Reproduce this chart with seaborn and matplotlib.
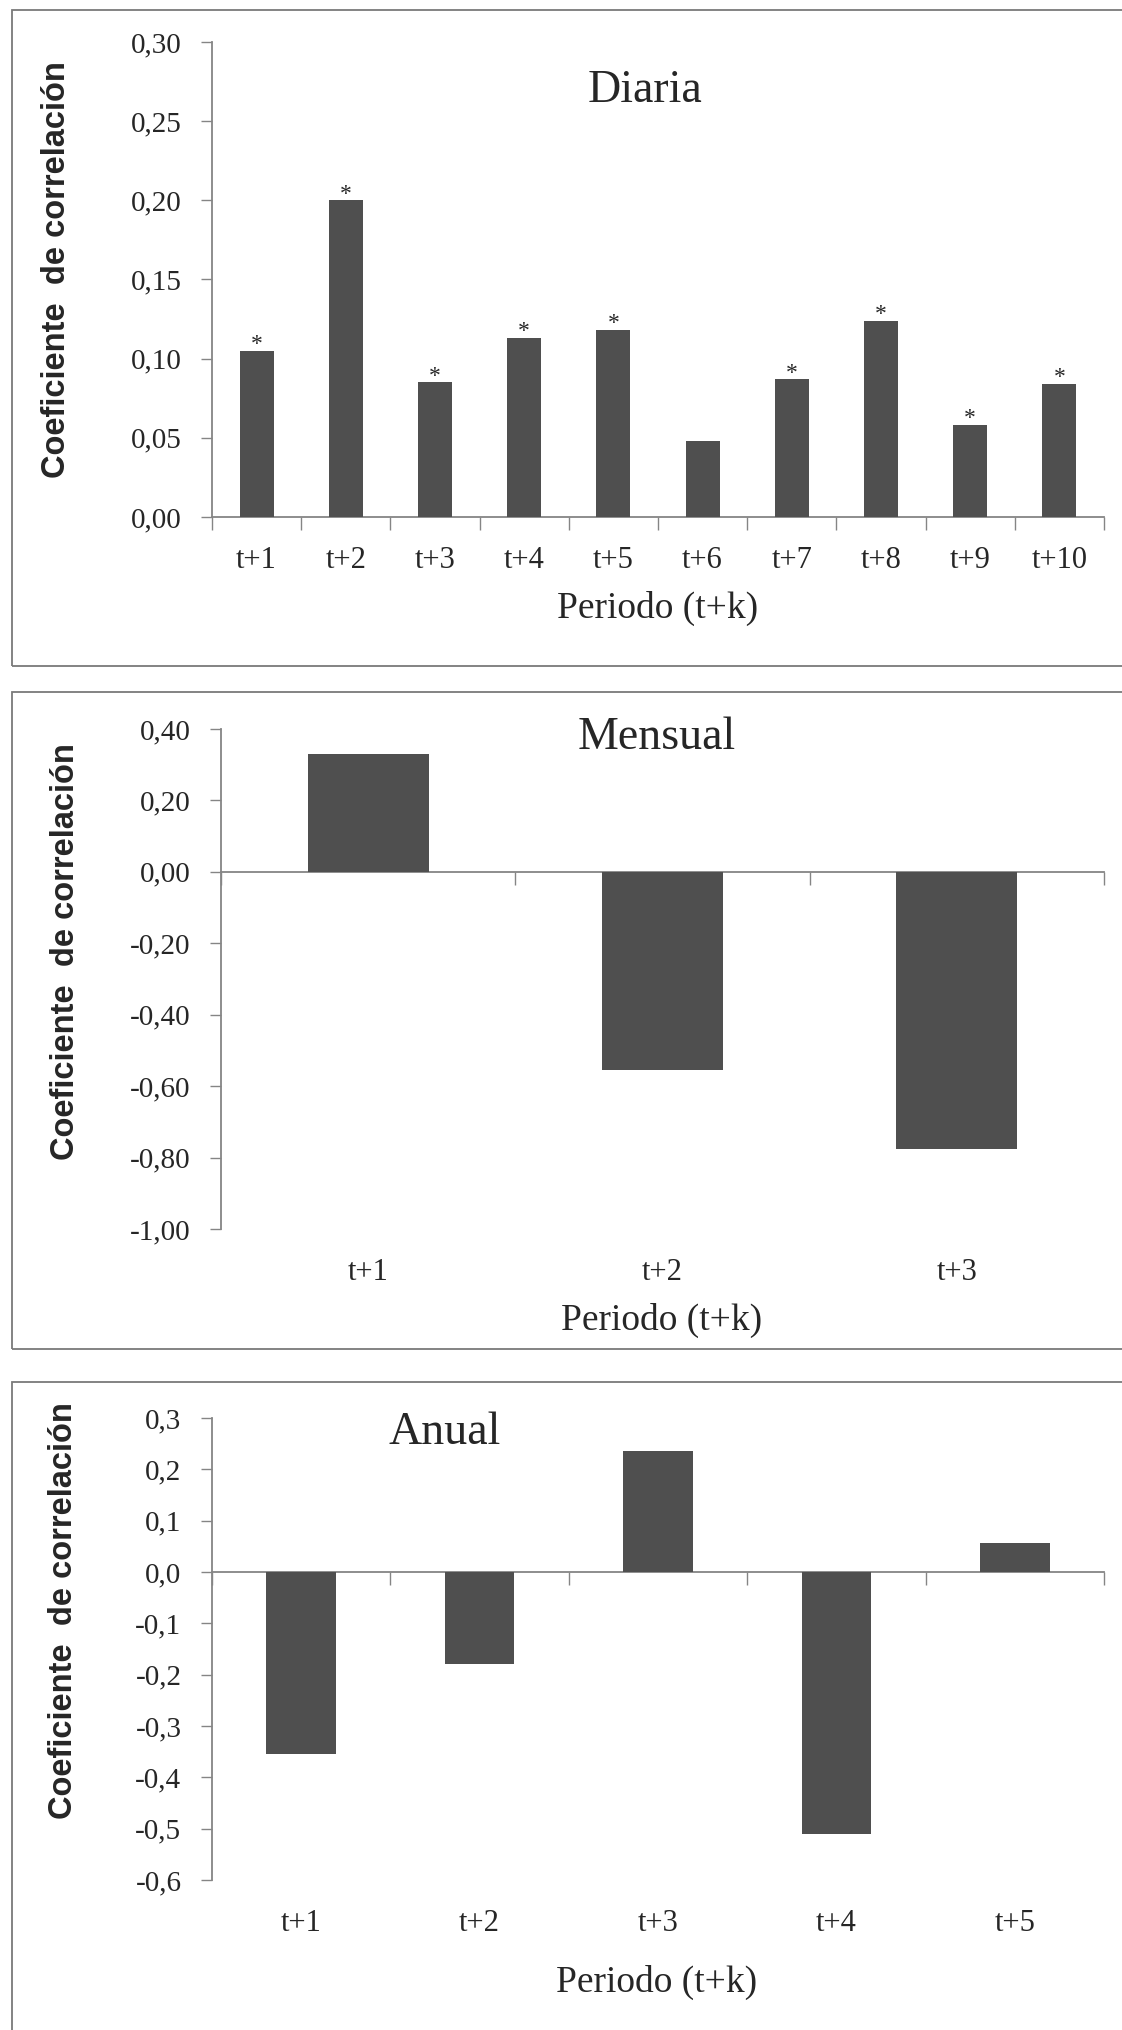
import numpy as np
import pandas as pd
import matplotlib
matplotlib.use("Agg")
import matplotlib.pyplot as plt
import matplotlib.patches as patches
from matplotlib.ticker import FuncFormatter
import seaborn as sns

# valores
diaria_periodos = ["t+1", "t+2", "t+3", "t+4", "t+5", "t+6", "t+7", "t+8", "t+9", "t+10"]
diaria_coef = [0.105, 0.200, 0.085, 0.113, 0.118, 0.048, 0.087, 0.124, 0.058, 0.084]
diaria_signif = [True, True, True, True, True, False, True, True, True, True]

mensual_periodos = ["t+1", "t+2", "t+3"]
mensual_coef = [0.331, -0.554, -0.775]

anual_periodos = ["t+1", "t+2", "t+3", "t+4", "t+5"]
anual_coef = [-0.354, -0.179, 0.236, -0.511, 0.056]

sns.set_style("white")
plt.rcParams['font.family'] = ['Liberation Serif', 'DejaVu Serif']

W, H = 1122, 2030
BAR = '#4f4f4f'
AXC = '#858585'

fig = plt.figure(figsize=(W / 100, H / 100), dpi=100)


def px_axes(left, top, right, bottom):
    # axes placed with pixel coords measured on the reference
    return fig.add_axes([left / W, 1 - bottom / H, (right - left) / W, (bottom - top) / H])


def comma_fmt(decimals):
    return FuncFormatter(lambda v, pos: f"{round(v, 6) + 0:.{decimals}f}".replace(".", ","))


def panel(ax, periodos, coef, ylim, yticks, decimals, width):
    df = pd.DataFrame({"periodo": periodos, "coef": coef})
    sns.barplot(data=df, x="periodo", y="coef", color=BAR, width=width,
                saturation=1, errorbar=None, linewidth=0, ax=ax)
    n = len(periodos)
    ax.set_xlim(-0.5, n - 0.5)
    ax.set_ylim(*ylim)
    ax.set_yticks(yticks)
    ax.yaxis.set_major_formatter(comma_fmt(decimals))
    ax.set_xlabel("")
    ax.set_ylabel("")
    for s in ["top", "right", "bottom"]:
        ax.spines[s].set_visible(False)
    ax.spines["left"].set_color(AXC)
    ax.spines["left"].set_linewidth(1.3)
    ax.tick_params(axis="y", left=True, direction="out", length=8, width=1,
                   color=AXC, labelsize=21, pad=14)
    ax.tick_params(axis="x", bottom=True, length=0, labelsize=22, pad=21)

    # horizontal axis line at zero with ticks between categories
    zero = (0 - ylim[0]) / (ylim[1] - ylim[0])
    sec = ax.secondary_xaxis(zero)
    sec.set_alignment("bottom")
    sec.set_xticks(np.arange(n + 1) - 0.5)
    sec.tick_params(axis="x", bottom=True, direction="out", length=9, width=1,
                    color=AXC, labelbottom=False)
    sec.spines["bottom"].set_color(AXC)
    sec.spines["bottom"].set_linewidth(1.3)
    return ax


def box(top, bottom):
    rect = patches.Rectangle((12 / W, 1 - bottom / H), (W + 20 - 12) / W, (bottom - top) / H,
                             transform=fig.transFigure, fill=False, ec="#7a7a7a", lw=1.3)
    fig.add_artist(rect)


def ylabel(x, y):
    fig.text(x / W, 1 - y / H, "Coeficiente  de correlación", rotation=90,
             ha="center", va="center", fontsize=23.5, fontweight="bold",
             family=["Liberation Sans", "DejaVu Sans"])


def xlabel(x, y):
    fig.text(x / W, 1 - y / H, "Periodo (t+k)", ha="center", va="center", fontsize=27)


def title(txt, x, y):
    fig.text(x / W, 1 - y / H, txt, ha="center", va="baseline", fontsize=33)


# Diaria
ax1 = px_axes(212, 42, 1104, 517)
panel(ax1, diaria_periodos, diaria_coef, (0, 0.30), np.linspace(0, 0.30, 7), 2, 0.38)
for i, (v, sig) in enumerate(zip(diaria_coef, diaria_signif)):
    if sig:
        ax1.annotate("*", (i, v), xytext=(0, 0.5), textcoords="offset points",
                     ha="center", va="baseline", fontsize=17)
box(10, 666)
title("Diaria", 645, 102)
ylabel(57, 270)
xlabel(658, 608)

# Mensual
ax2 = px_axes(221, 729, 1104, 1229)
panel(ax2, mensual_periodos, mensual_coef, (-1.0, 0.4), np.linspace(-1.0, 0.4, 8), 2, 0.41)
box(692, 1349)
title("Mensual", 657, 749)
ylabel(66, 952)
xlabel(662, 1320)

# Anual
ax3 = px_axes(212, 1418, 1104, 1880)
panel(ax3, anual_periodos, anual_coef, (-0.6, 0.3), np.linspace(-0.6, 0.3, 10), 1, 0.39)
box(1382, 2050)
title("Anual", 445, 1444)
ylabel(64, 1611)
xlabel(657, 1982)

fig.savefig("out.png", dpi=100)
